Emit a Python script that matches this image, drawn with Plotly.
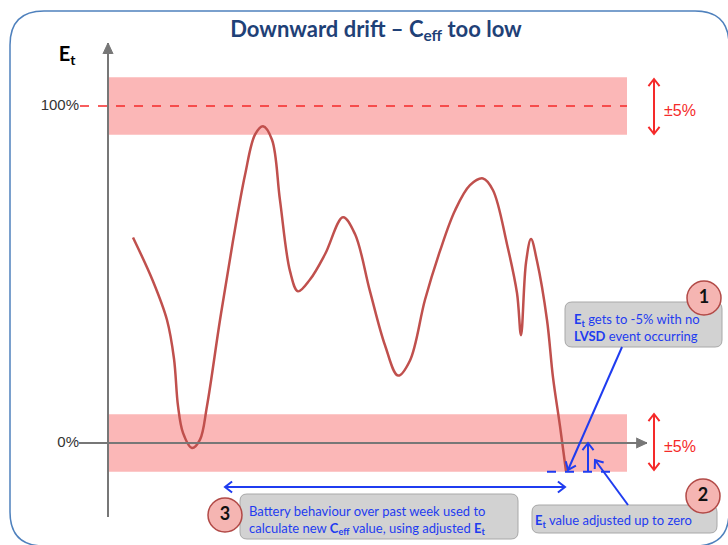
import math
import plotly.graph_objects as go

# ---------------- data (time units, Et in %) ----------------
t_vals = [2.5, 4.5, 5.9, 6.6, 7.0, 7.5, 8.4, 9.2, 9.9, 11.2, 12.5, 13.7, 14.7, 15.5,
          16.4, 17.2, 18.2, 19.0, 20.2, 21.7, 23.5, 24.7, 26.2, 27.7, 29.0, 30.2,
          31.7, 33.2, 34.7, 36.2, 37.5, 38.5, 39.9, 40.9, 41.3, 41.8, 42.3, 42.9,
          43.9, 44.5, 45.2, 45.8]
et_vals = [61, 48, 36.5, 25, 11, 3, -1.5, 1, 11, 36.5, 60, 79.5, 91.5, 94,
           90, 72, 51, 45, 48.5, 56, 67, 62, 45, 29, 20, 24.5,
           42.5, 57, 69, 76.5, 78.5, 75, 59, 44.5, 32, 53.5, 60.5, 54,
           36.5, 19.5, 5, -8.3]
band_centers = [100, 0]
band_half = 8.5
tick_vals = [0, 100]
tick_labels = ["0%", "100%"]
band_label = "±5%"
adjusted_low = -8.5
week_start, week_end = 11.7, 45.7

# ---------------- layout helpers (pixel -> data) ----------------
W, H = 728, 545
X0PX, XS, Y0PX, YS = 108, 10.0, 443, 3.37
def dx(px): return (px - X0PX) / XS
def dy(py): return (Y0PX - py) / YS
def px_of_x(x): return X0PX + x * XS
def py_of_y(y): return Y0PX - y * YS

FONT = "Lato"
BLUE = "#1f3cf0"
RED = "#f52a2a"
CURVE = "#c0504d"
GRAY = "#777777"
PINK = "rgba(250,170,170,0.85)"

def rrect(x0, y0, x1, y1, r):
    p = lambda a, b: f"{dx(a):.4f},{dy(b):.4f}"
    return (f"M {p(x0+r,y0)} L {p(x1-r,y0)} Q {p(x1,y0)} {p(x1,y0+r)} "
            f"L {p(x1,y1-r)} Q {p(x1,y1)} {p(x1-r,y1)} L {p(x0+r,y1)} "
            f"Q {p(x0,y1)} {p(x0,y1-r)} L {p(x0,y0+r)} Q {p(x0,y0)} {p(x0+r,y0)} Z")

fig = go.Figure()

shapes = []
for c in band_centers:
    shapes.append(dict(type="rect", xref="x", yref="y", x0=dx(109), x1=dx(627),
                       y0=c - band_half, y1=c + band_half, fillcolor=PINK,
                       line=dict(width=0), layer="below"))
shapes.append(dict(type="line", xref="x", yref="y", x0=dx(80), x1=dx(627),
                   y0=tick_vals[1], y1=tick_vals[1],
                   line=dict(color=RED, width=1.5, dash="dash")))
shapes.append(dict(type="line", xref="x", yref="y", x0=dx(547), x1=dx(612),
                   y0=adjusted_low, y1=adjusted_low,
                   line=dict(color=BLUE, width=2, dash="dash")))
shapes.append(dict(type="path", xref="x", yref="y", path=rrect(10, 11, 729, 546, 34),
                   line=dict(color="#4f81bd", width=1.5), fillcolor="rgba(0,0,0,0)"))
for (x0, y0, x1, y1) in [(565, 302, 722, 347), (532, 505, 717, 533), (240, 494, 518, 539)]:
    shapes.append(dict(type="path", xref="x", yref="y", path=rrect(x0, y0, x1, y1, 7),
                       line=dict(color="#a8a8a8", width=1), fillcolor="#d2d2d2",
                       layer="below"))
for (cx, cy) in [(704, 298), (703, 496), (225, 515)]:
    r = 17
    shapes.append(dict(type="circle", xref="x", yref="y", x0=dx(cx - r), x1=dx(cx + r),
                       y0=dy(cy + r), y1=dy(cy - r), fillcolor="#f5b5b2",
                       line=dict(color="#b24a47", width=1.5), layer="below"))

fig.add_trace(go.Scatter(x=t_vals, y=et_vals, mode="lines",
                         line=dict(color=CURVE, width=2.5, shape="spline", smoothing=1.0),
                         hoverinfo="skip"))

def head(tipx, tipy, ux, uy, color, width, filled, L, halfang):
    """tip in pixels, (ux,uy) unit direction of travel in pixels."""
    pts = []
    for s in (1, -1):
        a = math.radians(halfang) * s
        bx = -(ux * math.cos(a) - uy * math.sin(a))
        by = -(ux * math.sin(a) + uy * math.cos(a))
        pts.append((tipx + L * bx, tipy + L * by))
    xs = [dx(pts[0][0]), dx(tipx), dx(pts[1][0])]
    ys = [dy(pts[0][1]), dy(tipy), dy(pts[1][1])]
    if filled:
        fig.add_trace(go.Scatter(x=xs, y=ys, mode="lines", fill="toself", fillcolor=color,
                                 line=dict(color=color, width=1), hoverinfo="skip"))
    else:
        fig.add_trace(go.Scatter(x=xs, y=ys, mode="lines",
                                 line=dict(color=color, width=width), hoverinfo="skip"))

def arrow(hx, hy, tx, ty, color, width=2, both=False, filled=False, L=9, halfang=38):
    """hx,hy head / tx,ty tail in data coordinates."""
    fig.add_trace(go.Scatter(x=[tx, hx], y=[ty, hy], mode="lines",
                             line=dict(color=color, width=width), hoverinfo="skip"))
    hpx, hpy, tpx, tpy = px_of_x(hx), py_of_y(hy), px_of_x(tx), py_of_y(ty)
    n = math.hypot(hpx - tpx, hpy - tpy)
    ux, uy = (hpx - tpx) / n, (hpy - tpy) / n
    head(hpx, hpy, ux, uy, color, width, filled, L, halfang)
    if both:
        head(tpx, tpy, -ux, -uy, color, width, filled, L, halfang)

# axes
arrow(0, dy(43), 0, dy(517), GRAY, width=2, filled=True, L=12, halfang=25)
arrow(dx(647), 0, dx(79), 0, GRAY, width=2, filled=True, L=12, halfang=25)
# ±5% arrows
arrow(dx(654), dy(79), dx(654), dy(134), RED, both=True)
arrow(dx(654), dy(414), dx(654), dy(470), RED, both=True)
# blue arrows
arrow(dx(568), dy(470), dx(622), dy(347), BLUE)
arrow(dx(588), dy(443), dx(588), adjusted_low, BLUE)
arrow(dx(595), dy(460), dx(628), dy(505), BLUE)
arrow(week_start, dy(487), week_end, dy(487), BLUE, both=True)

def label(x, y, text, size, color, pos="middle center", family=FONT):
    fig.add_trace(go.Scatter(x=[x], y=[y], mode="text", text=[text], textposition=pos,
                             textfont=dict(family=family, size=size, color=color),
                             hoverinfo="skip", cliponaxis=False))

label(dx(376), dy(31), "<b>Downward drift – C<sub>eff</sub> too low</b>", 22, "#1f4177")
label(dx(67), dy(56), "<b>E<sub>t</sub></b>", 20, "#000000")
for v, s in zip(tick_vals, tick_labels):
    label(dx(79), v, s, 15, "#333333", pos="middle left", family="Liberation Sans")
label(dx(664), dy(112), band_label, 16, RED, pos="middle right", family="Liberation Sans")
label(dx(664), dy(448), band_label, 16, RED, pos="middle right", family="Liberation Sans")
label(dx(574), dy(329), "<b>E<sub>t</sub></b> gets to -5% with no<br><b>LVSD</b> event occurring",
      13, BLUE, pos="middle right")
label(dx(535), dy(522), "<b>E<sub>t</sub></b> value adjusted up to zero", 13, BLUE, pos="middle right")
label(dx(249), dy(521),
      "Battery behaviour over past week used to<br>calculate new <b>C<sub>eff</sub></b> value, using adjusted <b>E<sub>t</sub></b>",
      13, BLUE, pos="middle right")
for (cx, cy, n) in [(704, 298, "1"), (703, 496, "2"), (225, 515, "3")]:
    label(dx(cx), dy(cy), f"<b>{n}</b>", 18, "#111111")

fig.update_layout(
    width=W, height=H, margin=dict(l=0, r=0, t=0, b=0),
    paper_bgcolor="white", plot_bgcolor="white", showlegend=False,
    xaxis=dict(range=[dx(0), dx(W)], visible=False, fixedrange=True),
    yaxis=dict(range=[dy(H), dy(0)], visible=False, fixedrange=True),
    shapes=shapes,
)
fig.write_html("out.html", config={"displayModeBar": False},
               post_script="document.body.style.margin='0';document.body.style.overflow='hidden';")
